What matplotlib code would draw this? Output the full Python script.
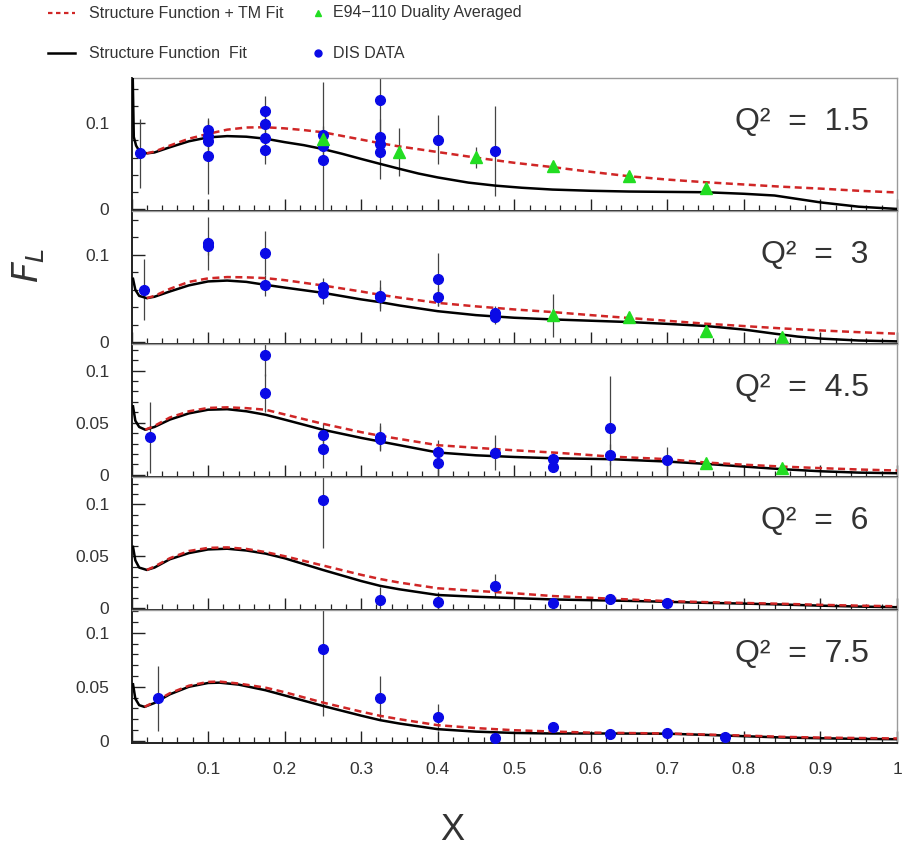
import numpy as np
import matplotlib
matplotlib.use('Agg')
import matplotlib.pyplot as plt
from matplotlib.ticker import MultipleLocator, FuncFormatter

plt.rcParams['font.family'] = ['Liberation Sans', 'DejaVu Sans']

# Q^2 bins (one panel each)
q2_labels = ['1.5', '3', '4.5', '6', '7.5']

# structure function fit (black)
sf_x = [
    [0.0015, 0.003, 0.006, 0.01, 0.02, 0.03, 0.05, 0.075, 0.1, 0.125, 0.15, 0.175, 0.2, 0.225, 0.25, 0.275, 0.3, 0.325, 0.35, 0.375, 0.4, 0.44, 0.475, 0.51, 0.55, 0.6, 0.65, 0.7, 0.75, 0.8, 0.84, 0.87, 0.9, 0.95, 1.0],
    [0.002, 0.005, 0.01, 0.02, 0.03, 0.05, 0.075, 0.1, 0.125, 0.15, 0.175, 0.2, 0.25, 0.3, 0.325, 0.35, 0.4, 0.45, 0.5, 0.55, 0.6, 0.65, 0.7, 0.75, 0.8, 0.84, 0.87, 0.9, 0.95, 1.0],
    [0.002, 0.005, 0.01, 0.018, 0.03, 0.05, 0.075, 0.1, 0.125, 0.15, 0.175, 0.2, 0.25, 0.3, 0.325, 0.35, 0.4, 0.45, 0.5, 0.55, 0.6, 0.625, 0.7, 0.75, 0.8, 0.85, 0.9, 0.95, 1.0],
    [0.002, 0.005, 0.01, 0.02, 0.03, 0.05, 0.075, 0.1, 0.125, 0.15, 0.175, 0.2, 0.25, 0.3, 0.325, 0.35, 0.4, 0.45, 0.5, 0.55, 0.6, 0.65, 0.7, 0.75, 0.8, 0.85, 0.9, 0.95, 1.0],
    [0.002, 0.005, 0.01, 0.017, 0.03, 0.05, 0.075, 0.1, 0.115, 0.14, 0.175, 0.2, 0.25, 0.3, 0.325, 0.35, 0.4, 0.45, 0.5, 0.55, 0.625, 0.7, 0.75, 0.8, 0.85, 0.9, 0.95, 1.0],
]
sf_y = [
    [0.16, 0.084, 0.074, 0.068, 0.065, 0.066, 0.072, 0.079, 0.0835, 0.085, 0.0843, 0.082, 0.078, 0.0745, 0.070, 0.0645, 0.0585, 0.0527, 0.047, 0.0415, 0.037, 0.031, 0.0275, 0.025, 0.0229, 0.0215, 0.0206, 0.0202, 0.0198, 0.018, 0.016, 0.012, 0.008, 0.003, 0.0004],
    [0.0725, 0.060, 0.053, 0.0504, 0.052, 0.058, 0.065, 0.0695, 0.0705, 0.069, 0.0656, 0.0625, 0.0565, 0.049, 0.0458, 0.042, 0.0355, 0.031, 0.028, 0.0261, 0.0246, 0.0231, 0.021, 0.0186, 0.0145, 0.0098, 0.0065, 0.0042, 0.002, 0.001],
    [0.0657, 0.052, 0.046, 0.0433, 0.046, 0.053, 0.059, 0.0625, 0.063, 0.061, 0.0577, 0.053, 0.0433, 0.0355, 0.032, 0.0285, 0.0215, 0.0188, 0.0172, 0.016, 0.0154, 0.0151, 0.0128, 0.0106, 0.008, 0.0055, 0.0035, 0.0022, 0.0016],
    [0.059, 0.046, 0.039, 0.0367, 0.039, 0.047, 0.053, 0.0565, 0.0572, 0.0555, 0.0525, 0.048, 0.0367, 0.026, 0.0213, 0.018, 0.0125, 0.0108, 0.0095, 0.0082, 0.0075, 0.0068, 0.0059, 0.0049, 0.0042, 0.0033, 0.0022, 0.0013, 0.0007],
    [0.0523, 0.039, 0.033, 0.0314, 0.035, 0.043, 0.050, 0.0535, 0.0538, 0.052, 0.0468, 0.042, 0.0323, 0.0233, 0.0191, 0.016, 0.0108, 0.0085, 0.0073, 0.0068, 0.0068, 0.0066, 0.0055, 0.0043, 0.0031, 0.0024, 0.0018, 0.0015],
]

# structure function + target mass fit (red dashed)
tm_x = [
    [0.02, 0.03, 0.05, 0.075, 0.1, 0.125, 0.15, 0.175, 0.2, 0.225, 0.25, 0.3, 0.325, 0.35, 0.4, 0.45, 0.5, 0.55, 0.6, 0.65, 0.7, 0.75, 0.8, 0.85, 0.9, 0.95, 1.0],
    [0.02, 0.03, 0.05, 0.075, 0.1, 0.125, 0.15, 0.175, 0.2, 0.25, 0.3, 0.325, 0.35, 0.4, 0.45, 0.5, 0.55, 0.6, 0.65, 0.7, 0.75, 0.8, 0.85, 0.9, 0.95, 1.0],
    [0.018, 0.03, 0.05, 0.075, 0.1, 0.125, 0.15, 0.175, 0.2, 0.25, 0.3, 0.325, 0.35, 0.4, 0.45, 0.5, 0.55, 0.6, 0.625, 0.7, 0.75, 0.8, 0.85, 0.9, 0.95, 1.0],
    [0.02, 0.03, 0.05, 0.075, 0.1, 0.125, 0.15, 0.175, 0.2, 0.25, 0.3, 0.325, 0.35, 0.4, 0.45, 0.5, 0.55, 0.6, 0.65, 0.7, 0.75, 0.8, 0.85, 0.9, 0.95, 1.0],
    [0.017, 0.03, 0.05, 0.075, 0.1, 0.115, 0.14, 0.175, 0.2, 0.25, 0.3, 0.325, 0.35, 0.4, 0.45, 0.5, 0.55, 0.6, 0.7, 0.75, 0.8, 0.85, 0.9, 0.95, 1.0],
]
tm_y = [
    [0.065, 0.067, 0.074, 0.082, 0.0876, 0.0925, 0.095, 0.0953, 0.094, 0.092, 0.0895, 0.081, 0.0767, 0.073, 0.0665, 0.060, 0.054, 0.049, 0.0435, 0.0384, 0.0345, 0.0314, 0.0288, 0.0262, 0.024, 0.0215, 0.0195],
    [0.0504, 0.053, 0.061, 0.069, 0.073, 0.0745, 0.0742, 0.0733, 0.071, 0.0649, 0.058, 0.0542, 0.051, 0.045, 0.041, 0.0375, 0.0345, 0.031, 0.0277, 0.0245, 0.0212, 0.0185, 0.0158, 0.0135, 0.0115, 0.0098],
    [0.0433, 0.047, 0.055, 0.061, 0.0642, 0.0648, 0.064, 0.0625, 0.058, 0.049, 0.041, 0.0375, 0.0345, 0.0285, 0.026, 0.0236, 0.0215, 0.019, 0.0176, 0.0151, 0.0119, 0.0098, 0.008, 0.0065, 0.0052, 0.0042],
    [0.0367, 0.040, 0.048, 0.055, 0.058, 0.0585, 0.057, 0.054, 0.050, 0.041, 0.032, 0.0279, 0.0245, 0.019, 0.0165, 0.0142, 0.0115, 0.0098, 0.0082, 0.0066, 0.0056, 0.0048, 0.004, 0.003, 0.0022, 0.0016],
    [0.0314, 0.036, 0.044, 0.051, 0.0545, 0.0548, 0.053, 0.0492, 0.045, 0.0354, 0.027, 0.0231, 0.020, 0.0145, 0.0118, 0.0098, 0.0086, 0.0076, 0.0068, 0.0058, 0.0049, 0.0037, 0.003, 0.0026, 0.0022],
]

# DIS data points
dis_x = [
    [0.011, 0.1, 0.1, 0.1, 0.1, 0.175, 0.175, 0.175, 0.175, 0.25, 0.25, 0.25, 0.325, 0.325, 0.325, 0.325, 0.4, 0.475],
    [0.016, 0.1, 0.1, 0.175, 0.175, 0.25, 0.25, 0.325, 0.325, 0.4, 0.4, 0.475, 0.475],
    [0.024, 0.175, 0.175, 0.25, 0.25, 0.325, 0.325, 0.4, 0.4, 0.475, 0.55, 0.55, 0.625, 0.625, 0.7],
    [0.25, 0.325, 0.4, 0.475, 0.55, 0.625, 0.7],
    [0.034, 0.25, 0.325, 0.4, 0.475, 0.55, 0.625, 0.7, 0.775],
]
dis_y = [
    [0.065, 0.092, 0.085, 0.079, 0.062, 0.114, 0.0985, 0.083, 0.069, 0.0866, 0.0733, 0.0578, 0.127, 0.0843, 0.076, 0.0663, 0.081, 0.0674],
    [0.06, 0.113, 0.110, 0.102, 0.065, 0.0637, 0.0561, 0.0534, 0.0515, 0.0718, 0.0515, 0.0335, 0.029],
    [0.0362, 0.1147, 0.0785, 0.0378, 0.025, 0.0365, 0.0345, 0.0215, 0.0112, 0.0213, 0.0151, 0.008, 0.0449, 0.0192, 0.0144],
    [0.1043, 0.0075, 0.0056, 0.0213, 0.0049, 0.0088, 0.0049],
    [0.0394, 0.0846, 0.04, 0.0222, 0.0025, 0.0129, 0.0062, 0.0077, 0.0037],
]
dis_err = [
    [0.04, 0.012, 0.01, 0.015, 0.044, 0.018, 0.015, 0.012, 0.016, 0.01, 0.012, 0.09, 0.03, 0.02, 0.015, 0.031, 0.028, 0.052],
    [0.035, 0.03, 0.01, 0.025, 0.012, 0.01, 0.012, 0.018, 0.012, 0.03, 0.01, 0.008, 0.008],
    [0.034, 0.02, 0.018, 0.012, 0.018, 0.013, 0.012, 0.012, 0.012, 0.017, 0.006, 0.005, 0.05, 0.01, 0.012],
    [0.046, 0.013, 0.01, 0.011, 0.003, 0.003, 0.003],
    [0.03, 0.062, 0.02, 0.012, 0.003, 0.003, 0.003, 0.003, 0.003],
]

# E94-110 duality averaged points
dual_x = [
    [0.25, 0.35, 0.45, 0.55, 0.65, 0.75],
    [0.55, 0.65, 0.75, 0.85],
    [0.75, 0.85],
    [],
    [],
]
dual_y = [
    [0.0818, 0.0663, 0.0605, 0.0508, 0.0384, 0.0244],
    [0.0307, 0.0288, 0.0125, 0.006],
    [0.0119, 0.0064],
    [],
    [],
]
dual_err = [
    [0.005, 0.028, 0.012, 0.004, 0.004, 0.004],
    [0.025, 0.004, 0.004, 0.004],
    [0.003, 0.003],
    [],
    [],
]

y_tops = [0.1525, 0.150, 0.1255, 0.1265, 0.121]
y_major = [0.1, 0.1, 0.05, 0.05, 0.05]
y_minor = [0.02, 0.02, 0.01, 0.01, 0.01]

RED = '#d02626'
BLUE = '#0a0ae6'
GREEN = '#22dd22'
TXT = '#333333'

W, H = 913, 846
fig = plt.figure(figsize=(W/100, H/100), dpi=100)

left, right = 131.5, 897
top, bottom = 78, 743
ph = (bottom - top)/5.0

def yfmt(v, pos):
    if abs(v) < 1e-9:
        return '0'
    return ('%.2f' % v).rstrip('0')

def xfmt(v, pos):
    if abs(v) < 1e-9:
        return ''
    if abs(v - 1) < 1e-9:
        return '1'
    return '%.1f' % v

for i in range(5):
    y0 = top + i*ph
    ax = fig.add_axes([left/W, 1 - (y0 + ph)/H, (right - left)/W, ph/H])

    ax.errorbar(dis_x[i], dis_y[i], yerr=dis_err[i], fmt='none', ecolor='#444444',
                elinewidth=0.9, capsize=0, zorder=2)
    if dual_x[i]:
        ax.errorbar(dual_x[i], dual_y[i], yerr=dual_err[i], fmt='none', ecolor='#444444',
                    elinewidth=0.9, capsize=0, zorder=2)

    ax.plot(sf_x[i], sf_y[i], color='black', lw=1.8, zorder=3)
    ax.plot(tm_x[i], tm_y[i], color=RED, lw=1.8, ls=(0, (2.8, 1.8)), zorder=4)

    ax.plot(dis_x[i], dis_y[i], 'o', color=BLUE, ms=7, mec=BLUE, zorder=5)
    if dual_x[i]:
        ax.plot(dual_x[i], dual_y[i], '^', color=GREEN, ms=8, mec=GREEN, zorder=5)

    ax.set_xlim(0, 1)
    ax.set_ylim(-0.002, y_tops[i])

    ax.xaxis.set_major_locator(MultipleLocator(0.1))
    ax.xaxis.set_minor_locator(MultipleLocator(0.02))
    ax.yaxis.set_major_locator(MultipleLocator(y_major[i]))
    ax.yaxis.set_minor_locator(MultipleLocator(y_minor[i]))
    ax.yaxis.set_major_formatter(FuncFormatter(yfmt))

    ax.tick_params(which='both', direction='in', top=False, right=False, color='#222222')
    ax.tick_params(which='major', length=9, width=1.0)
    ax.tick_params(which='minor', length=4.5, width=0.9)
    ax.tick_params(axis='y', labelsize=12.5, labelcolor=TXT, pad=16)
    ax.tick_params(axis='x', labelsize=12.5, labelcolor=TXT, pad=14)

    if i < 4:
        ax.tick_params(axis='x', labelbottom=False)
    else:
        ax.xaxis.set_major_formatter(FuncFormatter(xfmt))

    for s in ['left', 'bottom']:
        ax.spines[s].set_color('#222222')
        ax.spines[s].set_linewidth(1.4)
    for s in ['top', 'right']:
        ax.spines[s].set_color('#9a9a9a')
        ax.spines[s].set_linewidth(1.0)

    ax.text(0.963, 0.67, 'Q\u00b2  =  ' + q2_labels[i], transform=ax.transAxes,
            ha='right', va='center', fontsize=23, color=TXT)

# axis titles
fig.text(452/W, 1 - 830/H, 'X', ha='center', va='center', fontsize=26, color=TXT)
fig.text(28/W, 1 - 265/H, r'$F_L$', ha='center', va='center', fontsize=26,
         color=TXT, rotation=90)

# legend, drawn in pixel coordinates of a small top axes
lax = fig.add_axes([0, 1 - 75/H, 1, 75/H])
lax.set_xlim(0, W)
lax.set_ylim(75, 0)
lax.axis('off')
lax.plot([48, 75], [13, 13], color=RED, lw=1.6, ls=(0, (2, 1.6)))
lax.plot([48, 75], [53, 53], color='black', lw=1.8)
lax.plot([318], [13], '^', color=GREEN, ms=5)
lax.plot([318], [53], 'o', color=BLUE, ms=5)
lax.text(89, 13, 'Structure Function + TM Fit', va='center', fontsize=11.5, color=TXT)
lax.text(89, 53, 'Structure Function  Fit', va='center', fontsize=11.5, color=TXT)
lax.text(333, 13, 'E94\u2212110 Duality Averaged', va='center', fontsize=11.5, color=TXT)
lax.text(333, 53, 'DIS DATA', va='center', fontsize=11.5, color=TXT)

fig.savefig('out.png', dpi=100)
